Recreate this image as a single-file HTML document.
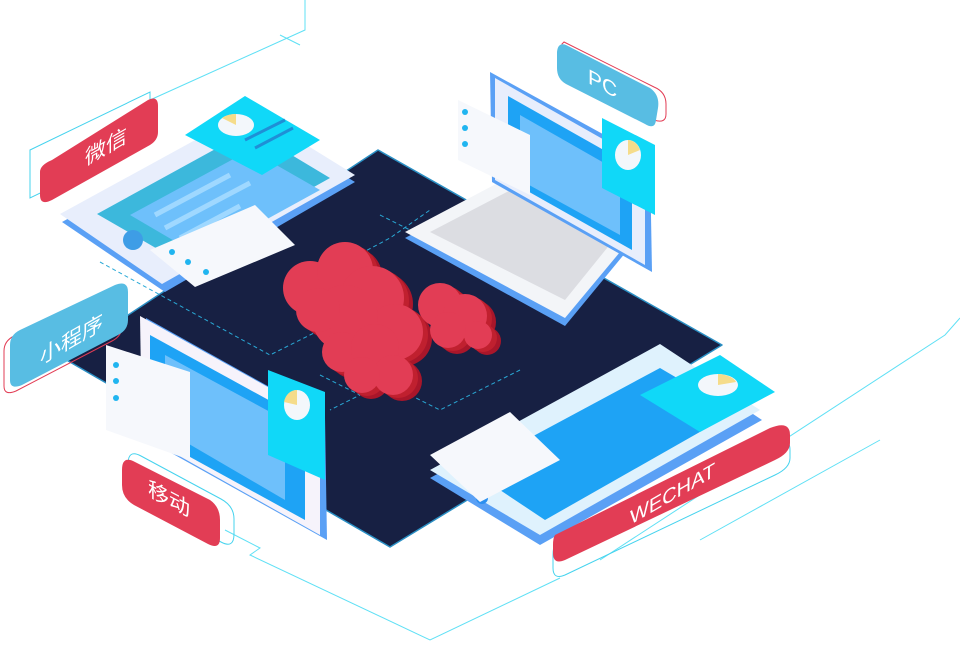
<!DOCTYPE html>
<html><head><meta charset="utf-8"><style>
html,body{margin:0;padding:0;background:#fff;width:960px;height:645px;overflow:hidden}
svg{display:block}
text{font-family:"Liberation Sans","Noto Sans CJK SC",sans-serif;fill:#fff}
</style></head><body>
<svg width="960" height="645" viewBox="0 0 960 645">
<defs>
<g id="cl">
<circle cx="310" cy="288" r="27"/><circle cx="345" cy="270" r="28"/><circle cx="372" cy="298" r="32"/><circle cx="395" cy="332" r="28"/><circle cx="345" cy="318" r="33"/><circle cx="318" cy="310" r="22"/>
<circle cx="440" cy="305" r="22"/><circle cx="465" cy="316" r="22"/><circle cx="478" cy="335" r="14"/><circle cx="448" cy="330" r="18"/>
<circle cx="342" cy="352" r="20"/><circle cx="375" cy="348" r="24"/><circle cx="393" cy="375" r="20"/><circle cx="362" cy="375" r="18"/>
</g>
</defs>
<g fill="none" stroke="#5fe0f5" stroke-width="1">
<polyline points="150,100 305,30 305,0"/>
<polyline points="280,35 300,45"/>
<polyline points="225,530 260,548 250,555 430,640 560,578"/>
<polyline points="600,560 945,335 960,318"/>
<polyline points="700,540 880,440"/>
</g>
<polygon points="378,150 722,345 390,547 63,358" fill="#172043" stroke="#2a8fc4" stroke-width="1.5" stroke-linejoin="round"/>
<g fill="none" stroke="#2aa9d6" stroke-width="1" stroke-dasharray="4,3">
<polyline points="100,262 270,355 330,325"/>
<polyline points="330,270 390,238 430,210"/>
<polyline points="320,375 360,395 330,410"/>
<polyline points="410,395 440,410 520,370"/>
<polyline points="380,215 430,240"/>
</g>
<use href="#cl" transform="translate(9,6)" fill="#a9162a"/>
<use href="#cl" transform="translate(5,3)" fill="#c0202f"/>
<use href="#cl" fill="#e23d55"/>
<!-- top-left tablet -->
<polygon points="62,222 250,118 355,182 165,292" fill="#5aa0f5"/>
<polygon points="60,214 250,110 355,175 162,284" fill="#e8eefc"/>
<polygon points="97,214 250,130 330,178 180,262" fill="#3cb8dc"/>
<polygon points="130,215 250,150 320,190 200,256" fill="#6ec0fb"/>
<g stroke="#9fd8ff" stroke-width="5"><line x1="155" y1="215" x2="230" y2="175"/><line x1="165" y1="228" x2="250" y2="183"/><line x1="180" y1="238" x2="240" y2="206"/></g>
<circle cx="133" cy="240" r="10" fill="#3e9de6"/>
<polygon points="185,135 245,96 320,140 262,175" fill="#10d8f8"/>
<ellipse cx="236" cy="125" rx="18" ry="11" fill="#f3f7fb"/>
<path d="M236,125 L222,118 A18,11 0 0 1 236,114 Z" fill="#f5dc8a"/>
<g stroke="#1f8fd6" stroke-width="3"><line x1="245" y1="140" x2="285" y2="120"/><line x1="255" y1="148" x2="293" y2="128"/></g>
<polygon points="150,250 255,205 295,245 195,287" fill="#f6f8fc"/>
<g fill="#20b5f0"><circle cx="172" cy="252" r="3"/><circle cx="188" cy="262" r="3"/><circle cx="206" cy="272" r="3"/></g>
<!-- laptop -->
<polygon points="405,238 530,172 640,235 565,326" fill="#5aa0f5"/>
<polygon points="405,232 530,166 640,228 565,318" fill="#f3f5f8"/>
<polygon points="430,232 530,180 620,232 565,300" fill="#dcdde2"/>
<polygon points="490,72 650,160 652,272 492,182" fill="#5aa0f5"/>
<polygon points="495,78 645,163 645,265 495,180" fill="#e8eefc"/>
<polygon points="508,96 632,166 632,250 508,180" fill="#1ea3f5"/>
<polygon points="520,115 620,172 620,235 520,180" fill="#6ec0fb"/>
<polygon points="458,100 530,135 530,195 458,160" fill="#f6f8fc"/>
<g fill="#20b5f0"><circle cx="465" cy="112" r="3"/><circle cx="465" cy="128" r="3"/><circle cx="465" cy="144" r="3"/></g>
<polygon points="602,118 655,145 655,215 602,188" fill="#10d8f8"/>
<ellipse cx="628" cy="155" rx="13" ry="15" fill="#f3f7fb"/>
<path d="M628,155 L628,140 A13,15 0 0 1 640,150 Z" fill="#f5dc8a"/>
<!-- phone left -->
<polygon points="146,318 325,418 327,540 148,440" fill="#5aa0f5"/>
<polygon points="140,316 320,416 320,535 142,435" fill="#f6f3fb"/>
<polygon points="150,335 305,420 305,520 150,435" fill="#1ea3f5"/>
<polygon points="165,355 285,420 285,500 165,430" fill="#6ec0fb"/>
<polygon points="106,345 190,372 190,460 106,430" fill="#f6f8fc"/>
<g fill="#20b5f0"><circle cx="116" cy="365" r="3"/><circle cx="116" cy="381" r="3"/><circle cx="116" cy="398" r="3"/></g>
<polygon points="268,370 325,392 325,480 268,455" fill="#10d8f8"/>
<ellipse cx="297" cy="405" rx="13" ry="15" fill="#f3f7fb"/>
<path d="M297,405 L297,390 A13,15 0 0 0 284,402 Z" fill="#f5dc8a"/>
<!-- tablet bottom right -->
<polygon points="430,478 660,352 762,420 540,545" fill="#5aa0f5"/>
<polygon points="430,470 660,344 760,410 540,535" fill="#dff2fd"/>
<polygon points="470,470 660,368 735,412 545,520" fill="#1ea3f5"/>
<circle cx="482" cy="498" r="6" fill="#2b8ff0"/>
<polygon points="430,455 510,412 560,460 480,502" fill="#f6f8fc"/>
<polygon points="640,395 720,355 775,392 700,432" fill="#10d8f8"/>
<ellipse cx="718" cy="385" rx="20" ry="11" fill="#f3f7fb"/>
<path d="M718,385 L718,374 A20,11 0 0 1 736,382 Z" fill="#f5dc8a"/>
<!-- labels -->
<g>
<polygon points="30,150 150,92 150,140 30,198" fill="none" stroke="#45d3ee" stroke-width="1"/>
<path d="M52,160 L148,100 Q158,95 158,106 L158,132 Q158,140 150,145 L52,200 Q40,206 40,195 L40,172 Q40,165 52,160 Z" fill="#e23d55"/>
<text font-size="21" transform="translate(85,166) skewY(-30)">微信</text>
</g>
<g>
<path d="M20,330 L115,285 Q128,280 128,292 L128,320 Q128,330 118,335 L22,385 Q10,390 10,380 L10,345 Q10,335 20,330 Z" fill="none" stroke="#e23d55" stroke-width="1" transform="translate(-6,6)"/>
<path d="M20,330 L115,285 Q128,280 128,292 L128,320 Q128,330 118,335 L22,385 Q10,390 10,380 L10,345 Q10,335 20,330 Z" fill="#58bde3"/>
<text font-size="21" transform="translate(40,365) skewY(-30)">小程序</text>
</g>
<g>
<path d="M560,50 L650,95 Q662,100 662,112 L662,122 Q662,132 650,128 L572,88 Q558,80 558,70 L558,52 Z" fill="none" stroke="#e23d55" stroke-width="1" transform="translate(4,-8)"/>
<path d="M566,45 L650,88 Q660,95 658,108 L656,120 Q655,130 645,124 L566,84 Q557,79 557,68 L557,52 Q558,42 566,45 Z" fill="#58bde3"/>
<text font-size="21" transform="translate(588,83) skewY(28)">PC</text>
</g>
<g>
<path d="M135,462 L215,505 Q228,512 228,525 L228,540 Q228,555 215,548 L134,505 Q122,498 122,485 L122,470 Q122,455 135,462 Z" fill="none" stroke="#45d3ee" stroke-width="1" transform="translate(6,-6)"/>
<path d="M135,462 L210,500 Q220,507 220,520 L220,538 Q220,550 208,544 L134,505 Q122,498 122,485 L122,470 Q122,455 135,462 Z" fill="#e23d55"/>
<text font-size="21" transform="translate(148,495) skewY(28)">移动</text>
</g>
<g>
<path d="M555,535 L770,432 Q790,425 790,440 L790,448 Q790,458 775,465 L565,565 Q553,570 553,558 L553,545 Q553,538 555,535 Z" fill="none" stroke="#45d3ee" stroke-width="1" transform="translate(0,10)"/>
<path d="M555,535 L770,428 Q790,420 790,435 L790,443 Q790,453 775,460 L565,560 Q553,565 553,553 L553,545 Q553,538 555,535 Z" fill="#e23d55"/>
<text font-size="20" transform="translate(630,525) skewY(-30)">WECHAT</text>
</g>
</svg>
</body></html>
